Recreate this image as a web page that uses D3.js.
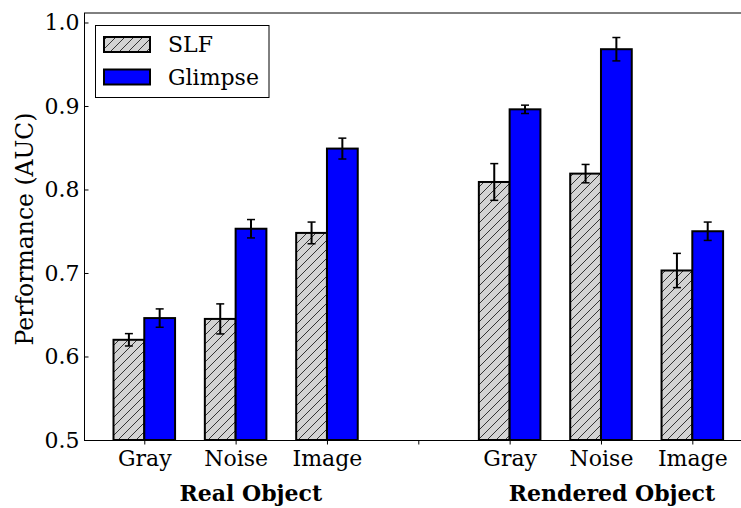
<!DOCTYPE html>
<html><head><meta charset="utf-8">
<script src="https://cdn.jsdelivr.net/npm/d3@7"></script>
<style>body{margin:0;background:#fff}</style>
</head><body><svg id="chart" width="741" height="508"></svg>
<script>
const categories = ["Gray","Noise","Image","","Gray","Noise","Image"];
const groupLabels = ["Real Object","Rendered Object"];
const groupLabelPos = [1.166, 5.12];
const seriesNames = ["SLF","Glimpse"];
const slfValues = [0.620,0.645,0.748,null,0.809,0.819,0.703];
const slfErrors = [0.0074,0.018,0.013,null,0.022,0.011,0.0205];
const glimpseValues = [0.646,0.753,0.849,null,0.896,0.968,0.750];
const glimpseErrors = [0.011,0.011,0.0125,null,0.005,0.014,0.011];
const yTicks = [0.5,0.6,0.7,0.8,0.9,1.0];
const yTickLabels = ["0.5","0.6","0.7","0.8","0.9","1.0"];

const FONT = '"DejaVu Serif"';
const svg = d3.select("#chart");
const x = d3.scaleLinear().domain([-0.66, 6.66]).range([84, 752.6]);
const y = d3.scaleLinear().domain([0.5, 1.011]).range([440, 13.3]);
const bw = 0.337;
const FS = 22;

// hatch pattern
const defs = svg.append("defs");
const pat = defs.append("pattern").attr("id","hatch").attr("patternUnits","userSpaceOnUse")
  .attr("width",9).attr("height",9);
pat.append("rect").attr("width",9).attr("height",9).attr("fill","#d3d3d3");
pat.append("path").attr("d","M-1,1 L1,-1 M0,9 L9,0 M8,10 L10,8").attr("stroke","#333").attr("stroke-width",1);

const series = [
  {name:seriesNames[0], vals:slfValues, errs:slfErrors, off:-bw, fill:"url(#hatch)"},
  {name:seriesNames[1], vals:glimpseValues, errs:glimpseErrors, off:0, fill:"#0000ff"}
];

// top spine
svg.append("line").attr("x1",84).attr("x2",741).attr("y1",13).attr("y2",13).attr("stroke","#000").attr("stroke-width",1);

series.forEach(s => {
  const data = s.vals.map((v,i)=>({v, e:s.errs[i], i})).filter(d=>d.v!==null);
  svg.append("g").selectAll("rect").data(data).join("rect")
    .attr("x", d=>x(d.i+s.off)).attr("width", d=>x(d.i+s.off+bw)-x(d.i+s.off))
    .attr("y", d=>y(d.v)).attr("height", d=>y(0.5)-y(d.v))
    .attr("fill", s.fill).attr("stroke","#000").attr("stroke-width",2);
});
series.forEach(s => {
  const data = s.vals.map((v,i)=>({v, e:s.errs[i], i})).filter(d=>d.v!==null);
  const g = svg.append("g");
  data.forEach(d => {
    const cx = x(d.i+s.off+bw/2);
    g.append("line").attr("x1",cx).attr("x2",cx).attr("y1",y(d.v-d.e)).attr("y2",y(d.v+d.e)).attr("stroke","#000").attr("stroke-width",2);
    [d.v-d.e, d.v+d.e].forEach(t => g.append("line").attr("x1",cx-4).attr("x2",cx+4).attr("y1",y(t)).attr("y2",y(t)).attr("stroke","#000").attr("stroke-width",1.5));
  });
});

// y axis
const yAxis = d3.axisLeft(y).tickValues(yTicks).tickFormat((d,i)=>yTickLabels[i]).tickSizeInner(-4).tickSizeOuter(0).tickPadding(5);
const gy = svg.append("g").attr("transform","translate(84.5,0)").call(yAxis);
gy.select(".domain").attr("d",`M0,${13}V${440}`).attr("stroke","#000");
gy.selectAll("text").style("font-size",FS+"px").style("font-family",FONT).attr("fill","#000");

// x axis
const xAxis = d3.axisBottom(x).tickValues(d3.range(categories.length)).tickFormat((d,i)=>categories[i]).tickSizeInner(4).tickSizeOuter(0).tickPadding(6);
const gx = svg.append("g").attr("transform","translate(0,440.5)").call(xAxis);
gx.select(".domain").attr("d",`M84,0H741`).attr("stroke","#000");
gx.selectAll("text").style("font-size",FS+"px").style("font-family",FONT).attr("fill","#000");

// group labels
svg.append("g").selectAll("text").data(groupLabels).join("text")
  .attr("x",(d,i)=>x(groupLabelPos[i])).attr("y",501).attr("text-anchor","middle")
  .style("font-family",FONT).style("font-size",FS+"px").style("font-weight","bold").text(d=>d);

// y label
svg.append("text").attr("transform","translate(33,229) rotate(-90)").attr("text-anchor","middle")
  .style("font-family",FONT).style("font-size","23.5px").text("Performance (AUC)");

// legend
const lg = svg.append("g");
lg.append("rect").attr("x",95.5).attr("y",25.5).attr("width",173.5).attr("height",72).attr("fill","#fff").attr("stroke","#000").attr("stroke-width",1);
series.forEach((s,i) => {
  const yy = 37 + i*32.5;
  lg.append("rect").attr("x",104).attr("y",yy).attr("width",46).attr("height",15).attr("fill",s.fill).attr("stroke","#000").attr("stroke-width",2);
  lg.append("text").attr("x",168).attr("y",yy+15).style("font-family",FONT).style("font-size",FS+"px").text(s.name);
});
</script></body></html>
